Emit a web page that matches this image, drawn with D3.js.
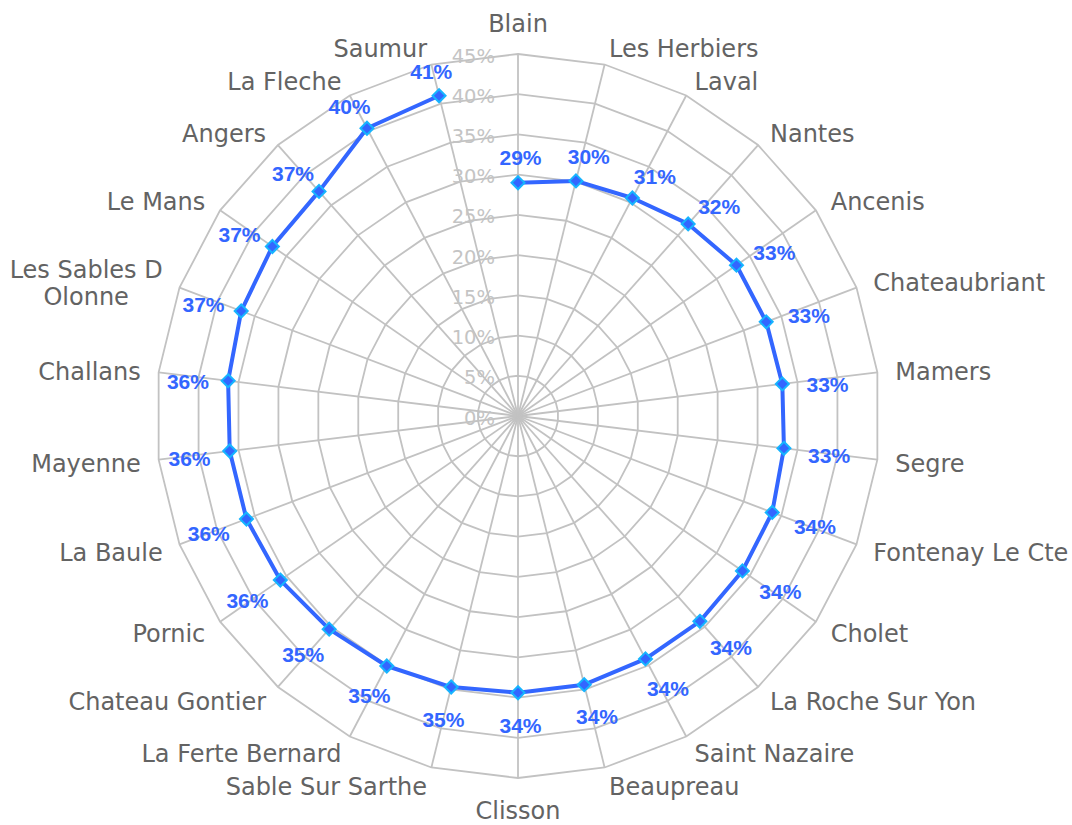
<!DOCTYPE html>
<html>
<head>
<meta charset="utf-8">
<script src="https://cdn.jsdelivr.net/npm/d3@7"></script>
<style>
  html, body { margin: 0; padding: 0; background: #fff; }
  svg { display: block; }
</style>
</head>
<body>
<svg id="chart" width="1072" height="825"></svg>
<script>
const categories = ["Blain", "Les Herbiers", "Laval", "Nantes", "Ancenis", "Chateaubriant", "Mamers", "Segre",
  "Fontenay Le Cte", "Cholet", "La Roche Sur Yon", "Saint Nazaire", "Beaupreau", "Clisson", "Sable Sur Sarthe",
  "La Ferte Bernard", "Chateau Gontier", "Pornic", "La Baule", "Mayenne", "Challans", "Les Sables D Olonne",
  "Le Mans", "Angers", "La Fleche", "Saumur"];
const values = [29.0, 30.1, 30.6, 31.9, 33.0, 33.0, 33.1, 33.3, 33.8, 33.9, 34.1, 34.1, 34.4, 34.4, 34.7,
  35.1, 35.4, 35.9, 36.1, 36.1, 36.3, 36.8, 37.1, 37.3, 40.4, 41.0];
const ticks = [0, 5, 10, 15, 20, 25, 30, 35, 40, 45];
const tickLabels = ["0%", "5%", "10%", "15%", "20%", "25%", "30%", "35%", "40%", "45%"];

const W = 1072, H = 825;
const cx = 518, cy = 416, R = 362;
const n = categories.length;
const svg = d3.select("#chart");
const g = svg.append("g").attr("transform", `translate(${cx},${cy})`);

const rScale = d3.scaleLinear().domain([0, 45]).range([0, R]);
const aScale = d3.scaleLinear().domain([0, n]).range([0, 2 * Math.PI]);
const pt = (i, r) => [r * Math.sin(aScale(i)), -r * Math.cos(aScale(i))];

const gridColor = "#c2c2c2";
const catFont = "'DejaVu Sans', Verdana, sans-serif";
// rings
ticks.filter(t => t > 0).forEach(t => {
  const pts = d3.range(n).map(i => pt(i, rScale(t)));
  g.append("path")
    .attr("d", d3.line()(pts) + "Z")
    .attr("fill", "none").attr("stroke", gridColor).attr("stroke-width", 1.8);
});
// spokes
d3.range(n).forEach(i => {
  const p = pt(i, rScale(45));
  g.append("line").attr("x1", 0).attr("y1", 0).attr("x2", p[0]).attr("y2", p[1])
    .attr("stroke", gridColor).attr("stroke-width", 1.8);
});
// tick labels
ticks.forEach((t, k) => {
  g.append("text").attr("x", -23).attr("y", -rScale(t) + 2)
    .attr("text-anchor", "end").attr("dominant-baseline", "central")
    .attr("font-family", catFont).attr("font-size", 19.5)
    .attr("fill", "#c4c4c4").text(tickLabels[k]);
});

// category labels
const probe = svg.append("text").attr("font-family", catFont).attr("font-size", 24).attr("x", -999).attr("y", -999);
const measure = s => { probe.text(s); return probe.node().getComputedTextLength(); };
categories.forEach((c, i) => {
  const a = aScale(i);
  const s = Math.sin(a), co = Math.cos(a);
  const lr = R + 18;
  const x = lr * s, y = -lr * co;
  const absX = cx + x;
  let anchor = Math.abs(s) < 0.01 ? "middle" : (s > 0 ? "start" : "end");
  const avail = anchor === "start" ? (W - absX + 2) : anchor === "end" ? (absX + 2) : W;
  const words = c.split(" ");
  const lines = [];
  let cur = "";
  words.forEach(w => {
    const test = cur ? cur + " " + w : w;
    if (measure(test) > avail && cur) { lines.push(cur); cur = w; } else cur = test;
  });
  lines.push(cur);
  const lh = 27;
  const maxW = d3.max(lines, measure);
  let tx = x, ta = anchor;
  if (lines.length > 1) {
    ta = "middle";
    tx = anchor === "start" ? x + maxW / 2 : anchor === "end" ? x - maxW / 2 : x;
  }
  const t = g.append("text")
    .attr("font-family", catFont).attr("font-size", 24)
    .attr("fill", "#636363").attr("text-anchor", ta);
  if (Math.abs(s) < 0.01) {
    t.attr("x", tx).attr("y", co > 0 ? y - 4 : y + 23).text(c);
  } else {
    const y0 = y + 2 - (lines.length - 1) * lh / 2;
    lines.forEach((ln, k) => {
      t.append("tspan").attr("x", tx).attr("y", y0 + k * lh)
        .attr("dominant-baseline", "central").text(ln);
    });
  }
});
probe.remove();

// series line (open)
const blue = "#3366ff";
const line = d3.lineRadial().angle((d, i) => aScale(i)).radius(d => rScale(d));
g.append("path").datum(values).attr("d", line)
  .attr("fill", "none").attr("stroke", blue).attr("stroke-width", 4).attr("stroke-linejoin", "round");

// markers
const dsz = 6.5;
values.forEach((v, i) => {
  const [px, py] = pt(i, rScale(v));
  g.append("path")
    .attr("d", `M${px},${py - dsz}L${px + dsz},${py}L${px},${py + dsz}L${px - dsz},${py}Z`)
    .attr("fill", blue).attr("stroke", "#16b4ff").attr("stroke-width", 2);
});

// data labels
const lw = 42, lhh = 14, dgap = 22;
values.forEach((v, i) => {
  const a = aScale(i);
  const ux = Math.sin(a), uy = -Math.cos(a);
  const [px, py] = pt(i, rScale(v));
  g.append("text")
    .attr("x", px + ux * (dgap + lw / 2) + 2.5)
    .attr("y", py + uy * (dgap + lhh / 2) + 4)
    .attr("text-anchor", "middle").attr("dominant-baseline", "central")
    .attr("font-family", "'Liberation Sans', Arial, sans-serif").attr("font-weight", "bold")
    .attr("font-size", 21).attr("fill", blue)
    .text(Math.round(v) + "%");
});
</script>
</body>
</html>
